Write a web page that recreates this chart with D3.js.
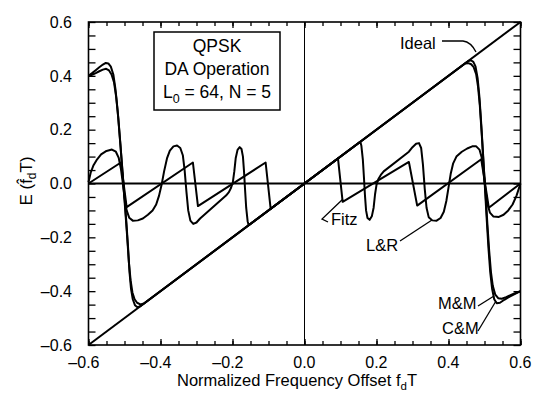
<!DOCTYPE html>
<html>
<head>
<meta charset="utf-8">
<script src="https://cdn.jsdelivr.net/npm/d3@7"></script>
<style>
  body { margin: 0; background: #fff; }
  svg { display: block; font-family: "Liberation Sans", Arial, sans-serif; }
</style>
</head>
<body>
<div id="chart"></div>
<script>
// tick values and labels
const majorTicks = [-0.6, -0.4, -0.2, 0.0, 0.2, 0.4, 0.6];
const xTickLabels = ["\u20130.6", "\u20130.4", "\u20130.2", "0.0", "0.2", "0.4", "0.6"];
const yTickLabels = ["\u20130.6", "\u20130.4", "\u20130.2", "0.0", "0.2", "0.4", "0.6"];
const boxLines = ["QPSK", "DA Operation"];

// series, [f_dT, E] pairs
const idealPoints = [[-0.6, -0.6], [0.6, 0.6]];

const mmPoints = [
    [-0.6, 0.40], [-0.59, 0.41], [-0.58, 0.421], [-0.57, 0.432], [-0.56, 0.442], [-0.552, 0.448],
    [-0.545, 0.446], [-0.538, 0.434], [-0.531, 0.405], [-0.525, 0.35], [-0.519, 0.27], [-0.513, 0.17],
    [-0.507, 0.07], [-0.5, -0.05], [-0.495, -0.14], [-0.49, -0.24], [-0.486, -0.33], [-0.482, -0.39],
    [-0.477, -0.43], [-0.471, -0.452], [-0.464, -0.46], [-0.455, -0.455],
    [0.455, 0.455], [0.462, 0.458], [0.469, 0.452], [0.475, 0.435], [0.481, 0.39], [0.486, 0.32],
    [0.491, 0.22], [0.496, 0.11], [0.501, -0.01], [0.506, -0.13], [0.511, -0.24], [0.516, -0.33],
    [0.521, -0.39], [0.527, -0.43], [0.534, -0.445], [0.543, -0.443], [0.555, -0.432], [0.57, -0.42],
    [0.585, -0.41], [0.6, -0.40]
];

const cmPoints = [
    [-0.6, 0.40], [-0.59, 0.404], [-0.58, 0.41], [-0.57, 0.417], [-0.56, 0.423], [-0.551, 0.426],
    [-0.543, 0.42], [-0.536, 0.405], [-0.529, 0.375], [-0.523, 0.32], [-0.517, 0.24], [-0.511, 0.14],
    [-0.505, 0.03], [-0.499, -0.08], [-0.493, -0.19], [-0.488, -0.29], [-0.483, -0.36], [-0.478, -0.405],
    [-0.472, -0.43], [-0.465, -0.443], [-0.456, -0.449], [-0.446, -0.446],
    [0.446, 0.446], [0.455, 0.447], [0.463, 0.443], [0.47, 0.432], [0.477, 0.405], [0.482, 0.36],
    [0.487, 0.29], [0.492, 0.19], [0.497, 0.08], [0.503, -0.04], [0.508, -0.15], [0.513, -0.25],
    [0.518, -0.33], [0.523, -0.38], [0.53, -0.413], [0.538, -0.426], [0.548, -0.428], [0.56, -0.422],
    [0.575, -0.413], [0.59, -0.405], [0.6, -0.40]
];

const fitzPoints = [
    [-0.6, 0], [-0.51, 0.078], [-0.494, -0.088], [-0.31, 0.078], [-0.296, -0.084], [-0.108, 0.078],
    [-0.094, -0.094], [0.093, 0.093], [0.106, -0.068], [0.29, 0.08], [0.313, -0.082], [0.491, 0.09],
    [0.512, -0.09], [0.6, 0]
];

const lrPoints = [
    [-0.6, 0.005], [-0.594, 0.04], [-0.586, 0.068], [-0.576, 0.09], [-0.565, 0.108], [-0.55, 0.121],
    [-0.535, 0.126], [-0.524, 0.118], [-0.516, 0.095], [-0.51, 0.055], [-0.505, 0.005], [-0.5, -0.05],
    [-0.494, -0.1], [-0.487, -0.127], [-0.477, -0.138], [-0.463, -0.137], [-0.449, -0.13], [-0.435, -0.116],
    [-0.422, -0.1], [-0.412, -0.078], [-0.404, -0.045], [-0.397, -0.005], [-0.39, 0.045], [-0.382, 0.093],
    [-0.374, 0.122], [-0.364, 0.138], [-0.354, 0.141], [-0.345, 0.132], [-0.338, 0.105], [-0.333, 0.05],
    [-0.328, -0.03], [-0.323, -0.1], [-0.317, -0.138], [-0.309, -0.15], [-0.3, -0.145], [-0.29, -0.13],
    [-0.218, -0.045], [-0.21, -0.032], [-0.204, -0.016], [-0.199, 0.005], [-0.195, 0.045], [-0.191, 0.095],
    [-0.186, 0.125], [-0.18, 0.135], [-0.175, 0.128], [-0.171, 0.1], [-0.168, 0.045], [-0.165, -0.025],
    [-0.162, -0.09], [-0.158, -0.14], [-0.155, -0.155],
    [0.155, 0.155], [0.158, 0.14], [0.162, 0.09], [0.165, 0.025], [0.168, -0.045], [0.171, -0.1],
    [0.175, -0.128], [0.181, -0.135], [0.187, -0.122], [0.192, -0.09], [0.196, -0.04], [0.2, -0.005],
    [0.205, 0.016], [0.212, 0.032], [0.22, 0.045], [0.29, 0.118], [0.3, 0.135], [0.31, 0.148],
    [0.318, 0.15], [0.324, 0.132], [0.329, 0.07], [0.334, -0.02], [0.339, -0.09], [0.345, -0.125],
    [0.355, -0.137], [0.367, -0.138], [0.378, -0.128], [0.387, -0.105], [0.394, -0.065], [0.4, -0.015],
    [0.406, 0.035], [0.413, 0.075], [0.422, 0.1], [0.437, 0.118], [0.452, 0.13], [0.466, 0.138],
    [0.477, 0.138], [0.486, 0.126], [0.492, 0.098], [0.497, 0.05], [0.502, -0.015], [0.508, -0.075],
    [0.515, -0.108], [0.525, -0.123], [0.54, -0.124], [0.553, -0.116], [0.566, -0.1], [0.578, -0.078],
    [0.589, -0.045], [0.6, 0.0]
];

const width = 533;
const height = 393;
const plot = { left: 88.5, right: 520.5, top: 22, bottom: 345 };

const svg = d3.select("#chart")
    .append("svg")
    .attr("width", width)
    .attr("height", height);

const x = d3.scaleLinear().domain([-0.6, 0.6]).range([plot.left, plot.right]);
const y = d3.scaleLinear().domain([-0.6, 0.6]).range([plot.bottom, plot.top]);
const minorTicks = x.ticks(24);

// ticks, all pointing inward
const tickAxis = (axis, tr, vals, size) => {
    svg.append("g")
        .attr("transform", tr)
        .call(axis.tickValues(vals).tickSize(size).tickFormat(""))
        .call(g => g.select(".domain").remove())
        .selectAll("line").attr("stroke", "#000").attr("stroke-width", 1.3);
};
tickAxis(d3.axisBottom(x), `translate(0,${plot.bottom})`, minorTicks, -4);
tickAxis(d3.axisBottom(x), `translate(0,${plot.bottom})`, majorTicks, -6);
tickAxis(d3.axisTop(x), `translate(0,${plot.top})`, minorTicks, -4);
tickAxis(d3.axisTop(x), `translate(0,${plot.top})`, majorTicks, -6);
tickAxis(d3.axisLeft(y), `translate(${plot.left},0)`, minorTicks, -7);
tickAxis(d3.axisRight(y), `translate(${plot.right},0)`, minorTicks, -7);

// zero lines
svg.append("line")
    .attr("x1", x(0)).attr("x2", x(0))
    .attr("y1", plot.top).attr("y2", plot.bottom)
    .attr("stroke", "#000").attr("stroke-width", 1);
svg.append("line")
    .attr("x1", plot.left).attr("x2", plot.right)
    .attr("y1", y(0)).attr("y2", y(0))
    .attr("stroke", "#000").attr("stroke-width", 2);

// frame
svg.append("rect")
    .attr("x", plot.left).attr("y", plot.top)
    .attr("width", plot.right - plot.left).attr("height", plot.bottom - plot.top)
    .attr("fill", "none").attr("stroke", "#000").attr("stroke-width", 1.6);

const line = d3.line()
    .x(d => x(d[0]))
    .y(d => y(d[1]));

[idealPoints, mmPoints, cmPoints, fitzPoints, lrPoints].forEach(pts => {
    svg.append("path")
        .attr("d", line(pts))
        .attr("fill", "none")
        .attr("stroke", "#000")
        .attr("stroke-width", 2)
        .attr("stroke-linejoin", "round");
});

// tick labels
svg.selectAll(".xlab")
    .data(majorTicks)
    .join("text")
    .attr("x", d => x(d) + 11)
    .attr("y", 368)
    .attr("text-anchor", "end")
    .attr("font-size", 16)
    .text((d, i) => xTickLabels[i]);

svg.selectAll(".ylab")
    .data(majorTicks)
    .join("text")
    .attr("x", 72)
    .attr("y", d => y(d))
    .attr("dy", "0.36em")
    .attr("text-anchor", "end")
    .attr("font-size", 16)
    .text((d, i) => yTickLabels[i]);

// axis titles
const xt = svg.append("text")
    .attr("x", 297)
    .attr("y", 386)
    .attr("text-anchor", "middle")
    .attr("font-size", 16.5);
xt.append("tspan").text("Normalized Frequency Offset f");
xt.append("tspan").attr("dy", 4).attr("font-size", 11.5).text("d");
xt.append("tspan").attr("dy", -4).text("T");

const yt = svg.append("text")
    .attr("transform", "translate(32,181) rotate(-90)")
    .attr("text-anchor", "middle")
    .attr("font-size", 17);
yt.append("tspan").text("E (f\u0302");
yt.append("tspan").attr("dy", 4).attr("font-size", 12).text("d");
yt.append("tspan").attr("dy", -4).text("T)");

// parameter box
svg.append("rect")
    .attr("x", 154).attr("y", 32)
    .attr("width", 126).attr("height", 78)
    .attr("fill", "#fff").attr("stroke", "#000").attr("stroke-width", 1.5);
svg.selectAll(".boxt")
    .data(boxLines)
    .join("text")
    .attr("x", 217)
    .attr("y", (d, i) => 52 + i * 23)
    .attr("text-anchor", "middle")
    .attr("font-size", 17.5)
    .text(d => d);
const lt = svg.append("text")
    .attr("x", 217)
    .attr("y", 98)
    .attr("text-anchor", "middle")
    .attr("font-size", 17.5);
lt.append("tspan").text("L");
lt.append("tspan").attr("dy", 5).attr("font-size", 12.5).text("0");
lt.append("tspan").attr("dy", -5).text(" = 64, N = 5");

// curve labels and leaders
const note = (tx, ty, label, leader) => {
    svg.append("text")
        .attr("x", tx).attr("y", ty)
        .attr("font-size", 16.5)
        .text(label);
    svg.append("path")
        .attr("d", leader)
        .attr("fill", "none")
        .attr("stroke", "#000")
        .attr("stroke-width", 1.3);
};
note(400, 49, "Ideal", "M442,41 L463,41 Q471,42 476,52");
note(331, 225, "Fitz", "M328,222 L322,219 L343,199");
note(366, 251, "L&R", "M400,241 L432,220");
note(438, 309, "M&M", "M478,306 L494,296");
note(442, 334, "C&M", "M478,331 L496,301");
</script>
</body>
</html>
